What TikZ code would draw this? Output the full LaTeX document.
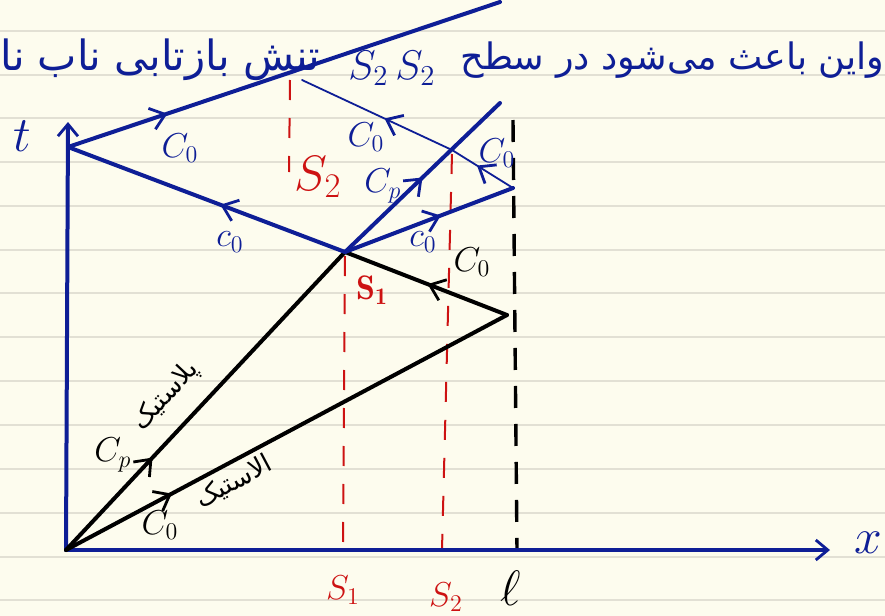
\documentclass[tikz,border=0pt]{standalone}
\usepackage{fontspec}
\usepackage{graphicx}
\usetikzlibrary{arrows.meta,decorations.markings}
\newfontfamily\arabicfont[Script=Arabic]{DejaVu Sans}
\TeXXeTstate=1
\definecolor{ink}{RGB}{14,30,150}
\definecolor{redink}{RGB}{205,18,18}
\definecolor{paper}{RGB}{253,252,238}
\definecolor{ruleline}{RGB}{226,224,212}
\tikzset{
  thickline/.style={line width=2pt, line cap=round, line join=round},
  thinline/.style={line width=0.9pt, line cap=round},
  midarrow/.style={postaction={decorate}, decoration={markings,
     mark=at position #1 with {\arrow[line width=1.4pt]{Straight Barb[length=7pt,width=11pt]}}}},
  reddash/.style={redink, line width=1pt, dash pattern=on 10pt off 9pt},
  blackdash/.style={black, line width=1.7pt, dash pattern=on 11pt off 8pt},
  lab/.style={font=\fontsize{17}{19}\selectfont, inner sep=0pt},
  biglab/.style={font=\fontsize{24}{26}\selectfont, inner sep=0pt},
  fa/.style={font=\arabicfont, inner sep=0pt},
}
\begin{document}
\begin{tikzpicture}[x=0.5pt,y=-0.5pt]
\useasboundingbox (0,0) rectangle (885,616);
\fill[paper] (0,0) rectangle (885,616);
\foreach \yy in {31,75,118,162,206,250,293,337,381,425,469,513,557,600}
  \draw[ruleline, line width=0.6pt] (0,\yy) -- (885,\yy);

% points
\coordinate (O) at (66,550);
\coordinate (Ttop) at (68,122);
\coordinate (Xend) at (830,550);
\coordinate (A) at (68,147);
\coordinate (Top) at (500,2);
\coordinate (P1) at (345,252);
\coordinate (Q) at (507,315);
\coordinate (R) at (513,188);
\coordinate (B) at (452,150);
\coordinate (U) at (500,103);
\coordinate (C) at (302,80);
\coordinate (Lt) at (513,120);
\coordinate (Lb) at (517,550);
\coordinate (S1t) at (345,256);
\coordinate (S1b) at (343,550);
\coordinate (S2t) at (452,154);
\coordinate (S2b) at (442,550);
\coordinate (S2ut) at (290,80);
\coordinate (S2ub) at (289,172);

% dashed guides
\draw[blackdash] (Lt) -- (Lb);
\draw[reddash] (S1t) -- (S1b);
\draw[reddash] (S2t) -- (S2b);
\draw[reddash] (S2ut) -- (S2ub);

% axes
\draw[ink, thickline, -{Straight Barb[length=6pt,width=10pt,line width=1.4pt]}] (O) -- (Ttop);
\draw[ink, thickline, -{Straight Barb[length=6pt,width=10pt,line width=1.4pt]}] (O) -- (Xend);

% black waves
\draw[black, thickline, midarrow=0.31] (O) -- (P1);
\draw[black, thickline, midarrow=0.24] (O) -- (Q);
\draw[black, thickline, midarrow=0.49] (Q) -- (P1);

% blue waves
\draw[ink, thickline, midarrow=0.45] (P1) -- (A);
\draw[ink, thickline, midarrow=0.23] (A) -- (Top);
\draw[ink, thickline, midarrow=0.5] (P1) -- (U);
\draw[ink, thickline, midarrow=0.57] (P1) -- (R);
\draw[ink, thinline, midarrow=0.59] (R) -- (B);
\draw[ink, thinline, midarrow=0.45] (B) -- (C);

% axis labels
\node[biglab, ink] (tlab) at (22,136) {$t$};
\node[biglab, ink] (xlab) at (868,543) {$x$};
\node[biglab, black] (llab) at (511,588) {$\ell$};
\node[lab, redink] (s1b) at (343,590) {$S_1$};
\node[lab, redink] (s2b) at (446,597) {$S_2$};
\node[biglab, redink] (s2u) at (318,177) {$S_2$};
\node[lab, redink] (s1m) at (372,290) {$\mathbf{S_1}$};

% blue labels
\node[lab, ink] (c1) at (180,148) {$C_0$};
\node[lab, ink] (c2) at (230,242) {$c_0$};
\node[lab, ink] (c3) at (366,137) {$C_0$};
\node[lab, ink] (c4) at (497,153) {$C_0$};
\node[lab, ink] (c5) at (423,242) {$c_0$};
\node[lab, ink] (cp1) at (383,186) {$C_p$};

% black labels
\node[lab, black] (c6) at (472,262) {$C_0$};
\node[lab, black] (c7) at (160,525) {$C_0$};
\node[lab, black] (cp2) at (113,455) {$C_p$};
\node[fa, black, rotate=47, font=\arabicfont\fontsize{13}{15}\selectfont] (plast) at (166,396) {\beginR پلاستیک\endR};
\node[fa, black, rotate=28, font=\arabicfont\fontsize{13}{15}\selectfont] (elast) at (234,482) {\beginR الاستیک\endR};

% handwritten sentence
\node[fa, ink, anchor=east] (txtR) at (885,60) {\resizebox{212pt}{!}{\arabicfont\beginR واین باعث می‌شود در سطح\endR}};
\node[ink, inner sep=0pt, font=\fontsize{20}{22}\selectfont] (s22) at (392,68) {$S_2\,S_2$};
\node[fa, ink, anchor=west] (txtL) at (0,60) {\resizebox{160pt}{!}{\arabicfont\beginR تنش بازتابی ناب نا\endR}};
\end{tikzpicture}
\end{document}
